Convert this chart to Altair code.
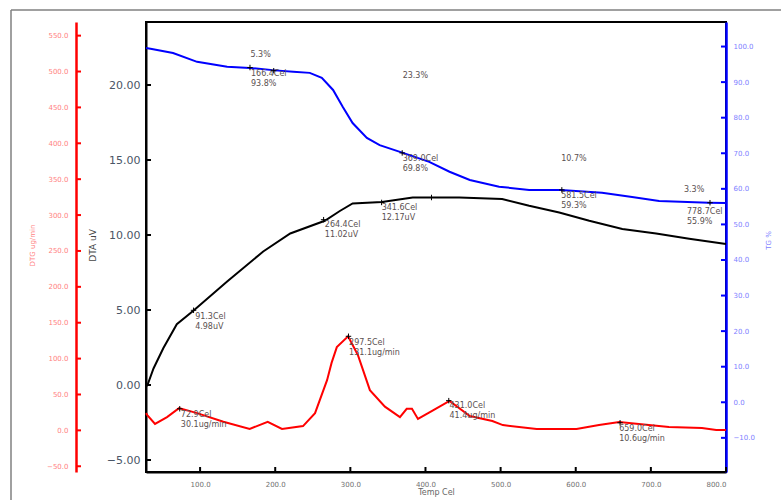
import altair as alt
import pandas as pd

# ---------------- data ----------------
tg_temp = [28, 34, 64, 96, 136, 166, 200, 224, 246, 262, 277, 290, 303, 322, 339, 370,
           405, 432, 459, 498, 538, 580, 635, 675, 711, 777, 800]
tg_val = [99.6, 99.4, 98.2, 95.7, 94.3, 94.0, 93.3, 92.9, 92.6, 91.2, 87.8, 83.0, 78.5, 74.3,
          72.3, 70.1, 67.6, 64.8, 62.5, 60.6, 59.7, 59.7, 58.9, 57.7, 56.6, 56.1, 56.0]

dta_temp = [28, 30, 38, 51, 69, 91, 136, 184, 220, 266, 286, 303, 342, 383, 445, 502, 538,
            578, 618, 662, 707, 751, 800]
dta_val = [-0.1, 0.0, 1.1, 2.45, 4.05, 4.95, 6.9, 8.9, 10.1, 10.95, 11.6, 12.1, 12.2, 12.5,
           12.5, 12.4, 11.95, 11.5, 10.95, 10.4, 10.1, 9.75, 9.4]

dtg_temp = [28, 30, 40, 56, 72, 96, 131, 166, 190, 209, 237, 253, 269, 275, 282, 297, 310, 326,
            346, 366, 375, 382, 390, 410, 432, 459, 489, 503, 548, 601, 631, 658, 684, 724,
            768, 787, 800]
dtg_val = [24, 21, 9, 18.5, 31, 24, 12, 2, 12, 2, 6, 24, 70, 94, 116, 131, 105, 56, 33, 18.5,
           30, 30, 16, 28, 41, 20, 13, 7.4, 1.8, 1.8, 7.4, 11.6, 9, 4.6, 3.2, 0.4, 0.4]

# annotations (text, temperature, value on the curve's own axis)
tg_ann_text = ["5.3%", "166.4Cel\n93.8%", "23.3%", "369.0Cel\n69.8%", "10.7%",
               "581.5Cel\n59.3%", "3.3%", "778.7Cel\n55.9%"]
tg_ann_temp = [167, 167.7, 369.6, 369.6, 580.6, 580.6, 744, 748]
tg_ann_val = [98.8, 93.3, 92.9, 69.6, 69.6, 59.0, 60.8, 54.7]
tg_mark_temp = [166.4, 198, 369.0, 581.5, 778.7]
tg_mark_val = [94.1, 93.2, 70.1, 59.7, 56.1]

dta_ann_text = ["91.3Cel\n4.98uV", "264.4Cel\n11.02uV", "341.6Cel\n12.17uV"]
dta_ann_temp = [93.4, 266, 341.7]
dta_ann_val = [4.81, 10.95, 12.09]
dta_mark_temp = [91.3, 264.4, 341.6, 408]
dta_mark_val = [4.98, 11.02, 12.17, 12.5]

dtg_ann_text = ["72.9Cel\n30.1ug/min", "297.5Cel\n131.1ug/min", "431.0Cel\n41.4ug/min",
                "659.0Cel\n10.6ug/min"]
dtg_ann_temp = [74.4, 298.3, 432, 657.8]
dtg_ann_val = [27.3, 128, 40, 7.4]
dtg_mark_temp = [72.9, 297.5, 431.0, 659.0]
dtg_mark_val = [30.1, 131.1, 41.4, 10.6]

x_ticks = [100, 200, 300, 400, 500, 600, 700, 800]
dta_ticks = [-5, 0, 5, 10, 15, 20]
dtg_ticks = [-50, 0, 50, 100, 150, 200, 250, 300, 350, 400, 450, 500, 550]
tg_ticks = [-10, 0, 10, 20, 30, 40, 50, 60, 70, 80, 90, 100]

# ---------------- chart ----------------
W, H = 580, 450
FONT = "DejaVu Sans"
ANN_COLOR = "#5a5050"
DTG_OFFSET = 70

xs = alt.Scale(domain=[28, 800], nice=False, zero=False)
tg_scale = alt.Scale(domain=[-19.6, 106.9], nice=False, zero=False)
dta_scale = alt.Scale(domain=[-5.8, 24.2], nice=False, zero=False)
dtg_scale = alt.Scale(domain=[-58, 569], nice=False, zero=False)

x_axis = alt.Axis(
    values=x_ticks, format=".1f", grid=False, ticks=False,
    domainColor="black", domainWidth=2,
    labelColor="#707070", labelFontSize=7, labelFont=FONT, labelPadding=8,
    title="Temp Cel", titleColor="#666666", titleFontSize=8, titleFont=FONT,
    titleFontWeight="normal", titlePadding=1,
)
dtg_axis = alt.Axis(
    orient="left", offset=DTG_OFFSET, values=dtg_ticks, format=".1f", grid=False, ticks=False,
    domainColor="#ff0000", domainWidth=2.5,
    labelColor="#ff7f7f", labelFontSize=7, labelFont=FONT, labelPadding=8,
    title="DTG ug/min", titleColor="#ff7f7f", titleFontSize=7, titleFont=FONT,
    titleFontWeight="normal", titleAngle=270, titleX=-44, titleY=223,
    titleBaseline="middle", titleAlign="center",
)
dta_axis = alt.Axis(
    orient="left", values=dta_ticks, format=".2f", grid=False, ticks=False,
    domainColor="black", domainWidth=2,
    labelColor="#4a5566", labelFontSize=11, labelFont=FONT, labelPadding=6,
    title="DTA uV", titleColor="#444444", titleFontSize=9, titleFont=FONT,
    titleFontWeight="normal", titleAngle=270, titleX=-54, titleY=223,
    titleBaseline="middle", titleAlign="center",
)
tg_axis = alt.Axis(
    orient="right", values=tg_ticks, format=".1f", grid=False, ticks=False,
    domainColor="#0000ff", domainWidth=2.5,
    labelColor="#8080ff", labelFontSize=7, labelFont=FONT, labelPadding=7,
    title="TG %", titleColor="#8080ff", titleFontSize=7, titleFont=FONT,
    titleFontWeight="normal", titleAngle=270, titleX=42, titleY=218,
    titleBaseline="middle", titleAlign="center",
)

cross = "M-1,0H1M0,-1V1"


def df(t, v, text=None):
    d = {"T": t, "v": v}
    if text is not None:
        d["label"] = text
    return pd.DataFrame(d)


def curve_layer(tv, vv, scale, color, axis, at, av, atext, mt, mv, ticks, tick_x, tick_color):
    X = alt.X("T:Q", scale=xs, axis=x_axis)
    Y = alt.Y("v:Q", scale=scale, axis=axis)
    line = alt.Chart(df(tv, vv)).mark_line(color=color, strokeWidth=2).encode(x=X, y=Y)
    text = alt.Chart(df(at, av, atext)).mark_text(
        align="left", baseline="top", lineBreak="\n", fontSize=8, font=FONT,
        color=ANN_COLOR, lineHeight=10,
    ).encode(x=X, y=Y, text="label:N")
    marks = alt.Chart(df(mt, mv)).mark_point(
        shape=cross, size=30, color="black", filled=False, strokeWidth=1, opacity=1
    ).encode(x=X, y=Y)
    # inward pointing axis ticks
    tk = alt.Chart(pd.DataFrame({"v": ticks})).mark_tick(
        color=tick_color, size=5, thickness=2, opacity=1
    ).encode(y=Y, x=alt.value(tick_x))
    return alt.layer(line, text, marks, tk)


dtg_layer = curve_layer(dtg_temp, dtg_val, dtg_scale, "#ff0000", dtg_axis,
                        dtg_ann_temp, dtg_ann_val, dtg_ann_text, dtg_mark_temp, dtg_mark_val,
                        dtg_ticks, -DTG_OFFSET + 2.5, "#ff0000")
dta_layer = curve_layer(dta_temp, dta_val, dta_scale, "#000000", dta_axis,
                        dta_ann_temp, dta_ann_val, dta_ann_text, dta_mark_temp, dta_mark_val,
                        dta_ticks, 2.5, "#000000")
tg_layer = curve_layer(tg_temp, tg_val, tg_scale, "#0000ff", tg_axis,
                       tg_ann_temp, tg_ann_val, tg_ann_text, tg_mark_temp, tg_mark_val,
                       tg_ticks, W - 2.5, "#0000ff")

x_tick_layer = alt.Chart(pd.DataFrame({"T": x_ticks})).mark_tick(
    color="black", size=5, thickness=2, opacity=1
).encode(x=alt.X("T:Q", scale=xs, axis=x_axis), y=alt.value(H - 2.5))

# outer frame of the picture (top and left edges)
frame_top = alt.Chart(pd.DataFrame({"a": [0]})).mark_rule(
    color="#808080", strokeWidth=1.5
).encode(x=alt.value(-135), x2=alt.value(W + 200), y=alt.value(-12))
frame_left = alt.Chart(pd.DataFrame({"a": [0]})).mark_rule(
    color="#808080", strokeWidth=1.5
).encode(x=alt.value(-135), y=alt.value(-12), y2=alt.value(H + 100))

chart = alt.layer(frame_top, frame_left, x_tick_layer, dtg_layer, dta_layer, tg_layer).resolve_scale(
    y="independent"
).properties(
    width=W, height=H,
    padding={"left": 146, "top": 22, "right": 55, "bottom": 28},
    autosize=alt.AutoSizeParams(type="none"),
    background="white",
).configure_view(stroke="black", strokeWidth=2)

chart.save("out.html", embed_options={"renderer": "svg", "actions": False})
